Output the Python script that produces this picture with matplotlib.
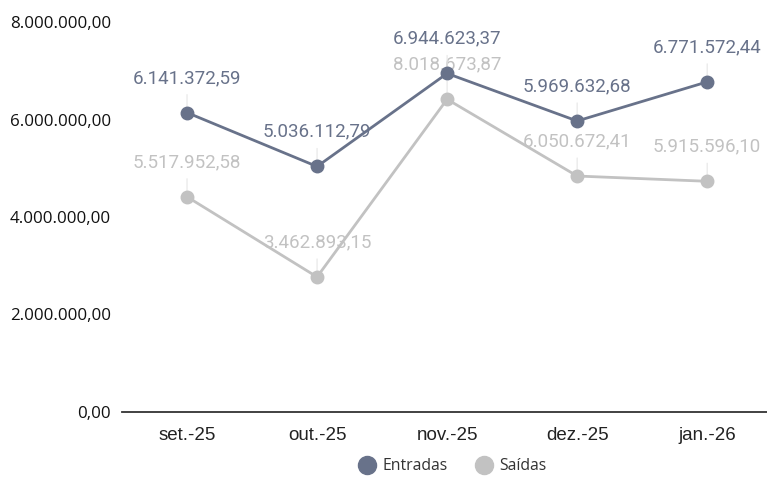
import matplotlib
matplotlib.use("Agg")
import matplotlib.pyplot as plt
from matplotlib.lines import Line2D

categories = ["set.-25", "out.-25", "nov.-25", "dez.-25", "jan.-26"]
entradas = [6141372.59, 5036112.79, 6944623.37, 5969632.68, 6771572.44]
saidas = [5517952.58, 3462893.15, 8018673.87, 6050672.41, 5915596.10]
yticks = [0, 2000000, 4000000, 6000000, 8000000]

c_ent = "#68728a"
c_sai = "#c2c2c2"


def fmt_br(v):
    s = f"{v:,.2f}"
    return s.replace(",", "X").replace(".", ",").replace("X", ".")


fig = plt.figure(figsize=(7.67, 4.78), dpi=100)
ax = fig.add_axes([122 / 767, 1 - 412 / 478, 1 - 122 / 767, (412 - 22) / 478])
ax2 = ax.twinx()
ax.set_zorder(ax2.get_zorder() + 1)
ax.patch.set_visible(False)

x = list(range(len(categories)))
ax.set_xlim(-0.5, 4.46)
ax.set_ylim(0, 8000000)
ax2.set_ylim(0, 10000000)

# Saídas (secondary hidden axis)
ax2.plot(x, saidas, color=c_sai, lw=2.0, marker="o", markersize=9,
         solid_capstyle="round", zorder=3)
for xi, v in zip(x, saidas):
    ax2.annotate("", xy=(xi, v), xytext=(0, 13), textcoords="offset points",
                 arrowprops=dict(arrowstyle="-", color="#e6e6e6", lw=0.8,
                                 shrinkA=0, shrinkB=0), zorder=1)
    ax2.annotate(fmt_br(v), xy=(xi, v), xytext=(0, 25), textcoords="offset points",
                 ha="center", va="center", color=c_sai, fontsize=13.5,
                 family="Roboto", zorder=2)

# Entradas
ax.plot(x, entradas, color=c_ent, lw=2.0, marker="o", markersize=9,
        solid_capstyle="round", zorder=3)
for xi, v in zip(x, entradas):
    ax.annotate("", xy=(xi, v), xytext=(0, 13), textcoords="offset points",
                arrowprops=dict(arrowstyle="-", color="#e6e6e6", lw=0.8,
                                shrinkA=0, shrinkB=0), zorder=1)
    ax.annotate(fmt_br(v), xy=(xi, v), xytext=(0, 25), textcoords="offset points",
                ha="center", va="center", color=c_ent, fontsize=13.5,
                family="Roboto", zorder=2)

for a in (ax, ax2):
    for s in ("top", "right", "left"):
        a.spines[s].set_visible(False)
ax2.spines["bottom"].set_visible(False)
ax2.set_yticks([])
ax.spines["bottom"].set_color("#333333")
ax.spines["bottom"].set_linewidth(1.3)

ax.set_yticks(yticks)
ax.set_yticklabels([fmt_br(t) for t in yticks], family="Open Sans", fontsize=12.2,
                   color="#111111")
ax.tick_params(axis="y", length=0, pad=8)
ax.set_xticks(x)
ax.set_xticklabels(categories, family="Liberation Sans", fontsize=13.5, color="#222222")
ax.tick_params(axis="x", length=0, pad=11)

handles = [Line2D([], [], ls="none", marker="o", markersize=13, color=c_ent),
           Line2D([], [], ls="none", marker="o", markersize=13, color=c_sai)]
fig.legend(handles, ["Entradas", "Saídas"], loc="center",
           bbox_to_anchor=(453 / 767, 1 - 466 / 478), ncol=2, frameon=False,
           prop={"family": "Open Sans", "size": 11.3}, labelcolor="#333333",
           handletextpad=0.5, columnspacing=1.8, handlelength=1.0)

fig.savefig("out.png", dpi=100)
